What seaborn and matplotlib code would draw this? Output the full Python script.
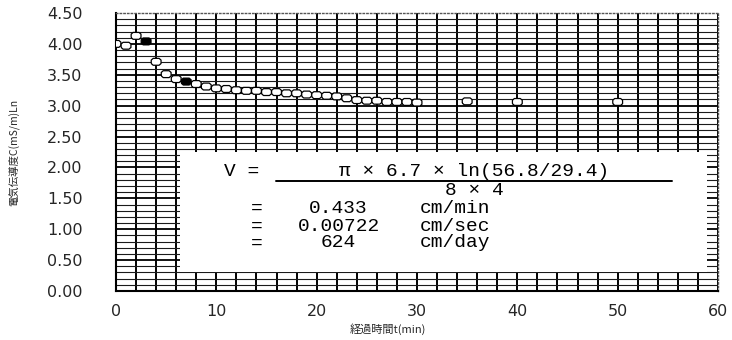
import matplotlib
matplotlib.use("Agg")
import matplotlib.pyplot as plt
from matplotlib.ticker import MultipleLocator, FixedLocator
from matplotlib.patches import Rectangle
import seaborn as sns
import pandas as pd

# Elapsed time (min) and conductivity readings
time_min = [0, 1, 2, 3, 4, 5, 6, 7, 8, 9, 10, 11, 12, 13, 14, 15, 16, 17,
            18, 19, 20, 21, 22, 23, 24, 25, 26, 27, 28, 29, 30, 35, 40, 50]
conductivity = [4.00, 3.97, 4.13, 4.04, 3.71, 3.51, 3.43, 3.39, 3.35, 3.31,
                3.28, 3.27, 3.25, 3.24, 3.24, 3.22, 3.22, 3.20, 3.20, 3.18,
                3.17, 3.16, 3.15, 3.12, 3.09, 3.08, 3.08, 3.06, 3.06, 3.06,
                3.05, 3.07, 3.06, 3.06]
# points used in the velocity calculation are drawn filled
selected_times = [3, 7]

x_ticks = [0, 10, 20, 30, 40, 50, 60]
y_ticks = [0.00, 0.50, 1.00, 1.50, 2.00, 2.50, 3.00, 3.50, 4.00, 4.50]

formula_lead = "V ="
formula_numerator = "π × 6.7 × ln(56.8/29.4)"
formula_denominator = "8 × 4"
result_values = ["0.433", "0.00722", "624"]
result_units = ["cm/min", "cm/sec", "cm/day"]

df = pd.DataFrame({"t": time_min, "c": conductivity})
df["kind"] = ["filled" if t in selected_times else "open" for t in time_min]

sns.set_theme(style="white")
plt.rcParams["font.family"] = ["DejaVu Sans", "Noto Sans CJK JP"]

fig = plt.figure(figsize=(7.32, 3.40), dpi=100)
ax = fig.add_axes([116 / 732, 49 / 340, 602 / 732, 278 / 340])

# squashed octagon marker
marker_shape = [(-1, -0.35), (-0.6, -0.7), (0.6, -0.7), (1, -0.35),
                (1, 0.35), (0.6, 0.7), (-0.6, 0.7), (-1, 0.35), (-1, -0.35)]
sns.scatterplot(data=df, x="t", y="c", hue="kind",
                palette={"open": "white", "filled": "black"},
                marker=marker_shape, s=50, edgecolor="black", linewidth=0.9,
                legend=False, ax=ax, zorder=3)

ax.set_xlim(0, 60)
ax.set_ylim(0, 4.5)

ax.xaxis.set_major_locator(FixedLocator(x_ticks))
ax.xaxis.set_minor_locator(MultipleLocator(2))
ax.yaxis.set_major_locator(FixedLocator(y_ticks))
ax.set_xticklabels([str(v) for v in x_ticks])
ax.set_yticklabels([f"{v:.2f}" for v in y_ticks])

ax.tick_params(which="both", length=0)
ax.tick_params(axis="y", pad=24, labelsize=11.5)
ax.tick_params(axis="x", pad=9, labelsize=11.5)

# vertical rules every 2 min
ax.set_axisbelow(True)
ax.grid(True, which="both", axis="x", color="black", linewidth=1.4)

# horizontal rules every 0.1, heavier at each labelled value
fine_levels = [i / 10 for i in range(1, 45) if i % 5]
ax.hlines(fine_levels, 0, 60, colors="#1a1a1a", linewidth=0.8, zorder=0.8)
ax.hlines(y_ticks[1:-1], 0, 60, colors="black", linewidth=1.3, zorder=0.8)

for side in ("left", "bottom"):
    ax.spines[side].set_color("black")
    ax.spines[side].set_linewidth(1.5)
for side in ("top", "right"):
    ax.spines[side].set_color("#555555")
    ax.spines[side].set_linestyle(":")
    ax.spines[side].set_linewidth(1.0)

# white panel holding the velocity calculation
ax.add_patch(Rectangle((6.4, 0.30), 52.5, 1.95, facecolor="white",
                       edgecolor="none", zorder=1.5))

ax.set_xlabel("経過時間t(min)", fontsize=8,
              family=["Noto Sans CJK JP", "DejaVu Sans"])
ax.xaxis.set_label_coords(0.452, -0.118)
ax.set_ylabel("電気伝導度C(mS/m)Ln", fontsize=7.5,
              family=["Noto Sans CJK JP", "DejaVu Sans"])
ax.yaxis.set_label_coords(-0.16, 0.5)

mono = dict(family=["Liberation Mono", "DejaVu Sans Mono"], fontsize=14,
            color="black", zorder=4)
ax.text(12.5, 1.93, formula_lead, ha="center", va="center", **mono)
ax.text(35.7, 1.93, formula_numerator, ha="center", va="center", **mono)
ax.plot([15.95, 55.4], [1.78, 1.78], color="black", linewidth=1.4, zorder=4)
ax.text(35.7, 1.62, formula_denominator, ha="center", va="center", **mono)

for y, val, unit in zip([1.34, 1.05, 0.78], result_values, result_units):
    ax.text(14.0, y, "=", ha="center", va="center", **mono)
    ax.text(22.2, y, val, ha="center", va="center", **mono)
    ax.text(30.3, y, unit, ha="left", va="center", **mono)

fig.savefig("out.png", dpi=100)
